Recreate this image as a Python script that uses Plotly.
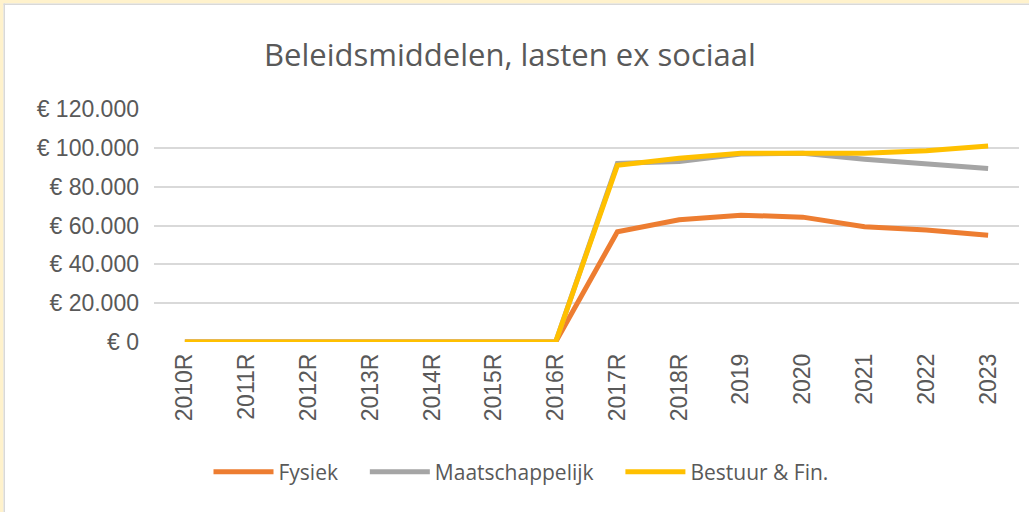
import plotly.graph_objects as go

# chart data
years = ["2010R", "2011R", "2012R", "2013R", "2014R", "2015R", "2016R",
         "2017R", "2018R", "2019", "2020", "2021", "2022", "2023"]
fysiek = [0, 0, 0, 0, 0, 0, 0, 56800, 63000, 65300, 64300, 59400, 57700, 55000]
maatschappelijk = [0, 0, 0, 0, 0, 0, 0, 92000, 92900, 96800, 97200, 94100, 92000, 89300]
bestuur = [0, 0, 0, 0, 0, 0, 0, 91000, 94600, 97200, 97500, 97200, 98500, 100900]

W, H = 1029, 512
L, R, T, B = 154, 10, 109, 170
PW, PH = W - L - R, H - T - B


def px(x):
    return (x - L) / PW


def py(y):
    return (H - B - y) / PH


# a few non-breaking spaces widen the gap between legend entries
pad = '\u00a0' * 4

fig = go.Figure()
fig.add_trace(go.Scatter(x=years, y=fysiek, mode='lines', name='Fysiek' + pad,
                         line=dict(color='#ED7D31', width=5)))
fig.add_trace(go.Scatter(x=years, y=maatschappelijk, mode='lines', name='Maatschappelijk' + pad,
                         line=dict(color='#A5A5A5', width=5)))
fig.add_trace(go.Scatter(x=years, y=bestuur, mode='lines', name='Bestuur & Fin.',
                         line=dict(color='#FFC000', width=5)))

# frame: beige strips top/left with a thin grey line
shapes = [
    dict(type='rect', xref='paper', yref='paper', x0=px(0), x1=px(W), y0=py(0), y1=py(3.5),
         fillcolor='#FFF2CC', line_width=0, layer='below'),
    dict(type='rect', xref='paper', yref='paper', x0=px(0), x1=px(3.5), y0=py(0), y1=py(H),
         fillcolor='#FFF2CC', line_width=0, layer='below'),
    dict(type='rect', xref='paper', yref='paper', x0=px(3.5), x1=px(W), y0=py(3.5), y1=py(5),
         fillcolor='#D9D9D9', line_width=0, layer='below'),
    dict(type='rect', xref='paper', yref='paper', x0=px(3.5), x1=px(5), y0=py(3.5), y1=py(H),
         fillcolor='#D9D9D9', line_width=0, layer='below'),
]

fig.update_layout(
    width=W, height=H,
    margin=dict(l=L, r=R, t=T, b=B),
    paper_bgcolor='white', plot_bgcolor='white',
    separators=',.',
    title=dict(text='Beleidsmiddelen, lasten ex sociaal', x=510 / W, xanchor='center',
               y=1 - 55 / H, yanchor='middle',
               font=dict(family='Open Sans', size=31, color='#595959')),
    font=dict(family='Liberation Sans', color='#595959'),
    showlegend=True,
    legend=dict(orientation='h', x=px(521), xanchor='center', y=py(472), yanchor='middle',
                font=dict(family='Open Sans', size=21, color='#595959'), itemwidth=60,
                bgcolor='rgba(0,0,0,0)'),
    shapes=shapes,
)

fig.update_xaxes(type='category', range=[-0.5, len(years) - 0.5], tickangle=-90,
                 showgrid=False, zeroline=False, showline=False, ticks='',
                 ticklabelstandoff=6,
                 tickfont=dict(size=23, color='#595959'))
fig.update_yaxes(range=[0, 120000], dtick=20000, tickformat=',d', tickprefix='€ ',
                 showgrid=True, gridcolor='#D9D9D9', gridwidth=1.5, zeroline=False,
                 ticks='', ticklabelstandoff=14,
                 tickfont=dict(size=23, color='#595959'))

fig.write_html("out.html", config={'displayModeBar': False},
               post_script="document.body.style.margin='0px';")
